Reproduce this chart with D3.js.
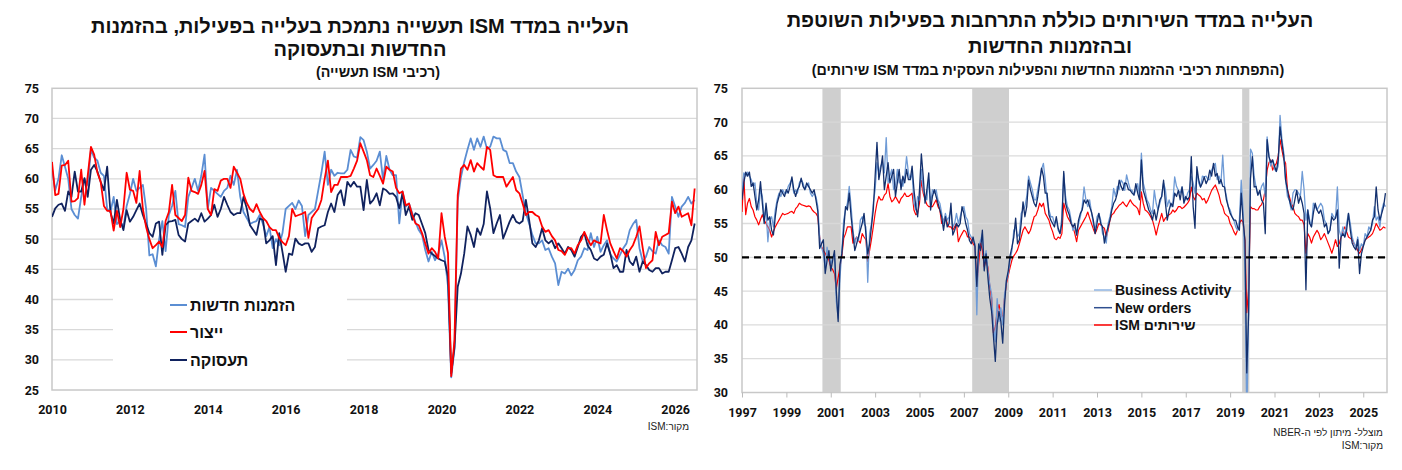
<!DOCTYPE html>
<html><head><meta charset="utf-8">
<script src="https://cdn.jsdelivr.net/npm/d3@7/dist/d3.min.js"></script>
<style>body{margin:0;background:#fff;} svg{display:block;}</style>
</head><body>
<svg id="c" width="1402" height="470"></svg>
<script>
// ---------------- LEFT CHART DATA (monthly, Jan 2010 onward) ----------------
const mfgStart = 2010;
const mfgNewOrders = [
61.7,58.1,60.0,63.9,62.0,60.0,55.0,54.0,53.4,57.0,60.0,59.0,
64.8,63.5,63.0,61.0,60.5,55.0,54.5,57.0,52.5,53.0,52.0,55.5,
57.5,60.0,58.0,58.5,59.0,55.0,47.3,47.5,45.5,50.0,53.0,48.0,
54.0,55.5,58.0,52.5,52.3,52.0,57.0,58.5,60.0,58.0,60.5,64.0,
55.0,58.5,58.0,57.5,57.0,58.0,58.5,60.5,59.0,61.5,57.0,54.5,
53.5,52.5,52.8,53.0,54.0,52.5,50.5,52.0,48.5,50.0,49.0,51.0,
55.0,55.5,56.0,55.0,56.4,55.5,50.5,54.0,54.5,55.0,58.0,61.0,
64.5,59.0,61.5,60.5,61.0,60.9,60.9,61.5,64.8,63.7,63.5,66.9,
66.4,64.5,61.7,62.3,63.0,64.5,59.8,63.8,61.5,60.6,60.6,52.6,
57.9,55.4,55.9,54.3,52.8,51.5,50.7,48.2,46.3,47.9,46.5,47.6,
49.8,47.0,42.2,27.1,31.8,56.4,60.3,62.8,64.8,66.7,64.8,66.7,
65.3,67.0,65.0,65.3,67.0,66.7,66.7,64.8,64.5,62.6,62.6,61.2,
60.3,57.3,54.3,52.6,50.7,49.3,49.3,49.8,48.2,48.5,47.1,46.0,
42.4,44.6,44.3,45.1,44.0,44.9,46.5,47.1,48.5,48.2,51.0,48.7,
50.4,47.9,49.0,49.8,47.5,46.8,46.3,47.4,48.5,49.3,51.5,52.5,
53.2,48.5,46.3,47.1,48.7,48.0,47.6,49.8,49.0,48.7,47.6,57.0,
55.4,53.7,55.4,56.0,57.0,55.9,56.5];
const mfgProduction = [
62.8,57.3,57.5,62.2,62.3,63.0,56.2,56.3,56.8,61.5,55.7,60.5,
65.3,64.0,61.0,59.5,55.5,54.7,54.7,51.4,54.7,52.0,55.0,61.0,
58.2,58.0,56.0,61.3,55.0,52.0,50.0,48.5,49.0,49.6,48.7,53.0,
54.5,59.0,54.0,53.5,53.0,54.0,60.2,58.0,57.8,57.5,59.0,61.3,
55.0,54.0,58.3,58.0,59.7,60.0,60.0,58.5,62.0,61.0,60.0,57.5,
56.0,55.0,54.5,55.8,54.5,53.5,53.0,52.0,51.5,51.5,50.2,49.5,
49.0,50.5,55.0,53.8,54.0,54.2,54.5,50.2,53.5,54.3,55.0,56.5,
60.0,63.0,57.8,59.0,59.0,60.3,60.3,60.3,60.5,61.7,63.0,65.9,
64.5,63.1,60.6,60.3,61.7,60.5,59.2,62.0,61.5,61.2,58.5,57.6,
57.9,55.6,55.9,54.0,52.6,52.3,51.0,49.3,47.6,48.5,47.9,46.8,
54.3,50.4,47.7,27.3,33.2,57.3,61.7,62.3,61.5,63.1,61.2,62.6,
62.0,61.5,65.3,64.8,60.6,60.3,60.3,60.3,58.7,59.5,60.3,58.1,
57.6,55.9,54.0,54.5,54.5,54.0,53.7,52.1,51.2,51.5,50.5,49.8,
48.2,48.0,47.4,48.5,48.5,47.6,49.0,49.8,51.2,50.0,49.0,49.8,
49.5,49.3,54.0,51.5,49.3,48.0,46.8,48.5,48.0,47.1,48.2,49.0,
50.4,52.1,48.5,45.2,46.0,46.5,51.2,49.0,50.4,50.7,51.0,56.2,
54.3,55.4,53.7,54.0,54.3,52.3,58.4];
const mfgEmployment = [
53.7,55.1,55.7,55.9,54.7,57.9,57.0,61.2,57.9,57.9,60.1,57.0,
61.5,62.3,61.2,59.5,58.1,62.0,54.5,52.6,56.5,53.2,51.5,54.8,
52.9,53.7,54.8,55.9,54.0,52.5,51.0,50.4,52.6,52.9,47.4,52.3,
52.9,53.0,53.2,50.7,50.0,49.6,52.6,53.0,53.4,52.9,54.3,52.9,
53.4,54.0,55.7,53.7,55.0,57.0,55.7,54.5,54.0,54.3,54.3,57.0,
55.1,52.3,51.5,50.7,53.4,53.2,49.3,49.8,50.5,45.7,51.0,47.9,
44.6,47.6,47.4,50.1,49.3,49.0,49.3,49.3,47.9,48.7,51.8,52.1,
52.3,54.5,55.9,54.5,57.3,58.1,55.6,59.5,58.7,59.5,58.7,58.7,
54.8,59.8,55.9,56.5,57.6,55.6,58.4,58.1,57.5,57.6,57.0,55.1,
57.6,54.0,55.4,53.2,54.3,54.0,52.5,51.0,48.2,47.6,47.2,46.8,
46.5,46.3,43.8,27.8,32.1,42.1,44.3,47.6,52.1,50.7,48.7,51.8,
50.7,52.5,57.9,55.1,51.0,52.6,54.0,50.1,51.5,52.9,54.0,52.9,
52.6,53.0,56.5,53.2,49.3,48.7,49.8,51.8,49.8,49.3,49.8,48.5,
49.3,48.5,47.6,48.7,48.2,47.1,48.7,50.4,51.0,49.0,48.2,46.8,
46.5,47.1,47.4,49.3,47.6,45.2,45.7,44.6,44.6,48.2,46.3,45.7,
47.1,44.6,46.3,45.7,44.9,44.6,45.2,45.2,44.3,44.6,44.6,46.5,
48.5,48.7,47.6,46.3,48.7,49.8,52.6];
const mfgXTicks = [2010,2012,2014,2016,2018,2020,2022,2024,2026];
const mfgYTicks = [25,30,35,40,45,50,55,60,65,70,75];
const mfgNames = ["הזמנות חדשות","ייצור","תעסוקה"];
const mfgTitle = ["העלייה במדד ISM תעשייה נתמכת בעלייה בפעילות, בהזמנות","החדשות ובתעסוקה"];
const mfgSubtitle = "(רכיבי ISM תעשייה)";

// ---------------- RIGHT CHART DATA (monthly, first point placed at the "1997" label) ----------------
const svcStart = 1997;
const svcBusinessActivity = [
60.0,62.5,62.0,62.6,62.0,61.5,60.5,61.0,58.0,57.0,60.0,59.0,
56.0,57.0,52.3,55.5,56.0,54.5,57.0,58.5,59.5,59.0,60.0,59.5,
59.5,60.5,61.0,61.5,59.5,60.0,59.5,61.0,61.5,61.0,60.0,60.5,
61.0,59.5,59.0,59.5,59.0,57.5,53.0,51.5,50.5,48.5,51.5,50.0,
49.0,50.0,50.5,43.5,41.0,47.0,51.0,55.5,57.0,58.0,60.5,57.5,
54.0,52.0,53.0,52.5,55.5,56.0,55.0,54.5,46.3,53.5,55.0,58.0,
60.0,64.0,62.5,63.5,64.0,62.5,67.7,61.0,62.0,63.0,60.0,60.5,
63.0,61.0,61.5,60.5,62.0,64.9,62.5,61.5,62.5,58.0,57.0,59.0,
58.5,63.0,60.0,59.0,58.5,61.5,58.0,60.0,59.5,60.0,58.5,58.0,
56.5,55.0,56.5,55.5,56.0,57.0,54.5,55.0,56.5,55.0,56.0,57.0,
57.5,56.0,55.5,53.5,53.0,52.5,52.0,41.5,51.5,52.5,53.5,49.0,
51.0,48.0,46.0,44.5,40.0,37.5,43.9,40.5,42.5,40.0,44.5,46.5,
47.5,49.5,51.0,54.0,54.5,53.0,53.5,56.5,57.0,57.5,59.0,62.0,
61.0,60.0,58.5,58.5,60.0,61.5,63.0,63.9,61.5,58.5,57.0,56.0,
56.0,55.0,55.5,54.0,53.5,56.0,62.4,59.0,57.5,57.0,55.5,54.0,
54.5,53.3,55.0,56.0,57.5,60.4,58.5,57.5,58.5,56.7,55.0,54.0,
56.0,56.5,55.5,53.5,53.0,52.1,55.0,56.0,57.5,60.2,59.0,60.5,
60.0,61.4,61.0,59.9,62.2,61.0,60.0,59.9,59.2,60.0,60.9,59.0,
65.4,61.0,59.9,58.5,58.0,57.0,56.5,59.9,58.0,57.0,58.0,59.0,
61.0,60.0,57.5,58.5,57.5,58.0,61.9,60.5,59.9,59.5,60.4,59.0,
58.5,59.5,60.0,62.0,61.0,59.5,62.5,61.0,60.4,62.0,61.9,62.0,
61.5,61.5,62.9,63.5,63.9,61.5,62.0,60.9,65.1,60.4,59.0,57.5,
57.0,56.0,55.5,54.5,54.0,55.5,61.4,57.0,48.0,26.0,41.9,66.0,
65.4,62.0,60.4,59.2,59.5,60.5,61.0,59.0,67.8,64.9,63.5,64.4,
63.0,62.7,63.5,71.0,67.5,65.5,61.4,59.0,58.5,57.0,59.5,60.0,
59.9,59.5,59.0,62.7,60.0,55.5,57.0,55.5,54.5,58.0,57.5,57.0,
57.5,58.0,57.5,55.5,55.0,53.5,54.0,56.5,56.0,55.8,60.4,54.0,
53.0,54.5,53.0,55.0,56.5,55.0,53.0,52.1,51.5,53.0,51.0,52.0,
51.6,53.5,53.0,54.5,54.0,55.0,57.5,55.5,56.0,54.5,57.0,58.0,
57.5];
const svcNewOrders = [
58.5,61.0,62.6,62.0,62.6,60.5,61.0,59.0,57.0,58.5,61.2,58.0,
55.0,58.0,55.5,56.0,54.0,53.3,56.0,58.0,59.0,60.0,59.5,59.0,
60.0,59.5,60.5,61.9,60.0,59.0,60.0,60.5,61.7,60.5,60.0,61.0,
60.5,60.0,59.5,60.0,58.5,56.8,51.3,52.0,52.6,47.6,49.5,51.0,
48.0,49.5,51.0,45.0,40.5,49.0,50.5,54.0,57.5,57.0,59.5,56.0,
53.5,51.0,52.0,53.0,54.0,55.0,56.5,53.5,50.5,52.0,54.5,57.0,
62.0,67.0,61.5,63.0,65.0,60.0,62.0,64.0,61.0,62.0,63.0,59.0,
61.0,63.0,60.0,62.0,61.0,63.0,61.5,61.5,63.5,60.0,57.5,56.0,
60.0,65.3,62.0,58.0,60.0,62.5,57.0,59.0,60.0,59.0,58.0,57.0,
56.0,54.0,56.0,54.5,55.0,58.0,53.3,54.0,55.0,54.5,55.0,57.5,
56.5,55.0,54.0,52.5,52.0,53.0,51.6,45.7,52.0,51.0,54.0,48.0,
50.5,47.0,44.0,42.0,38.3,34.6,40.0,42.0,40.5,37.3,43.0,46.6,
48.0,50.3,51.5,53.0,55.8,52.0,52.6,55.0,58.2,56.0,57.5,61.4,
60.0,59.0,58.0,57.5,59.0,61.0,63.2,62.0,59.5,59.5,56.3,55.5,
55.0,54.5,56.0,54.3,53.5,55.0,62.7,58.0,57.0,56.3,55.0,54.5,
55.0,53.3,55.5,56.5,57.0,58.5,58.0,58.5,57.5,56.7,55.5,53.5,
55.0,56.5,55.0,54.5,52.1,53.5,54.5,55.5,57.0,58.0,58.5,59.5,
61.4,60.5,59.9,61.0,60.9,60.0,59.9,59.5,59.2,60.9,59.5,58.5,
64.4,59.9,59.0,58.0,57.0,56.5,55.5,57.0,55.5,57.0,58.5,59.0,
61.4,58.0,55.5,57.0,58.0,57.5,59.5,59.0,59.9,58.5,60.4,58.0,
59.0,58.5,59.0,64.9,57.5,54.3,63.4,61.5,60.4,61.0,61.9,60.9,
61.5,62.9,62.0,63.9,62.0,62.4,60.9,61.5,60.5,60.4,58.5,57.5,
56.5,56.0,55.5,55.5,54.5,54.0,59.5,55.5,52.5,32.9,41.6,61.6,
64.9,60.4,60.5,59.2,59.9,58.5,58.0,53.5,67.4,64.9,64.0,64.4,
63.5,62.7,64.4,69.3,66.9,65.0,61.4,60.0,58.5,57.5,57.0,58.5,
59.9,58.0,59.0,58.0,56.5,45.2,57.0,55.0,54.5,56.5,58.0,57.0,
56.5,57.0,56.0,54.5,55.0,53.5,54.0,56.0,55.5,55.8,57.0,48.4,
53.0,53.5,53.0,54.0,56.5,54.0,52.1,51.5,51.1,52.6,47.6,50.5,
51.6,52.5,53.0,53.5,54.0,55.5,56.0,60.4,57.0,55.5,56.5,57.5,
59.5];
const svcISM = [
56.7,61.9,56.3,58.0,58.7,57.5,57.0,56.0,55.5,54.8,55.6,56.3,
55.5,55.0,54.5,54.0,53.0,53.8,54.5,55.0,55.5,56.0,56.5,56.3,
56.4,56.5,56.7,56.8,56.5,57.2,57.5,58.0,57.8,57.7,57.6,57.5,
57.6,57.5,57.0,56.7,56.5,56.0,53.0,51.6,51.0,50.6,50.0,49.6,
48.6,48.2,47.6,45.4,47.0,48.6,50.1,52.8,53.5,54.5,54.5,54.5,
52.1,52.5,53.0,52.5,52.1,53.5,53.0,52.6,49.4,51.0,52.6,54.5,
56.5,58.0,59.0,58.5,58.5,59.2,59.5,60.9,59.0,58.2,58.5,59.0,
58.5,58.0,58.7,59.0,59.5,59.0,59.0,59.2,59.5,57.0,56.3,56.5,
58.0,61.4,59.5,58.5,57.8,57.5,57.5,57.5,58.0,58.5,57.5,57.0,
55.0,55.5,56.0,55.0,54.5,54.5,54.0,54.5,55.0,52.3,53.0,53.5,
54.0,53.8,53.0,53.0,52.6,52.0,51.6,45.9,49.0,52.1,51.1,48.6,
49.6,48.5,45.7,44.0,38.8,39.7,42.0,43.0,41.7,41.0,44.0,46.1,
47.3,48.5,49.6,50.2,50.6,51.1,52.0,53.0,54.0,54.5,54.0,53.5,
54.0,55.0,56.0,56.2,57.0,58.0,57.5,58.0,56.5,56.0,55.5,54.5,
53.8,52.8,52.6,53.0,52.8,53.5,58.0,57.0,56.0,55.5,55.0,54.5,
53.5,52.3,54.0,54.5,55.0,55.5,56.0,56.7,55.8,55.0,54.2,53.5,
54.2,55.0,54.8,54.5,54.3,53.0,54.0,55.5,56.3,56.5,57.0,57.3,
57.7,57.9,58.2,57.8,57.5,58.0,58.5,58.0,57.7,57.5,57.2,56.3,
59.7,58.0,57.0,56.8,56.5,56.0,55.5,54.5,53.3,54.5,55.5,56.5,
55.3,55.8,56.0,56.3,56.5,57.0,56.7,57.0,57.5,57.5,57.2,57.4,
57.7,58.0,58.5,60.4,59.0,58.5,59.5,59.2,59.0,58.5,58.7,58.0,
58.5,59.2,59.9,60.3,60.7,60.0,59.2,58.0,57.5,56.5,56.2,56.0,
55.0,54.5,53.8,53.3,54.0,55.0,55.5,55.2,52.5,41.8,45.4,57.5,
57.2,57.2,57.0,57.0,57.5,57.8,58.5,60.0,62.9,64.0,64.4,62.9,
63.5,63.9,65.0,67.4,65.9,64.5,63.9,60.0,59.0,58.0,57.5,56.5,
56.2,56.0,55.5,55.5,54.8,50.6,53.5,53.0,52.1,53.0,53.5,54.0,
53.5,52.6,53.0,53.5,52.8,52.1,51.4,50.6,51.5,52.6,51.6,52.0,
53.0,53.8,54.5,53.8,53.0,52.8,52.6,52.0,51.6,51.0,50.6,51.1,
51.8,52.6,52.8,53.0,53.2,53.5,54.2,55.0,54.5,54.0,54.2,54.5,
54.3];
// recessions (NBER), as [start month index, end month index] counted from the first data point
const recessions = [[44,52],[125,143],[271,273]];
const svcXTicks = [1997,1999,2001,2003,2005,2007,2009,2011,2013,2015,2017,2019,2021,2023,2025];
const svcYTicks = [30,35,40,45,50,55,60,65,70,75];
const svcNames = ["Business Activity","New orders","ISM שירותים"];
const svcTitle = ["העלייה במדד השירותים כוללת התרחבות בפעילות השוטפת","ובהזמנות החדשות"];
const svcSubtitle = "(התפתחות רכיבי ההזמנות החדשות והפעילות העסקית במדד ISM שירותים)";
const svcNotes = ["מוצלל- מיתון לפי ה-NBER","מקור:ISM"];
const mfgNote = "מקור:ISM";

// ---------------- DRAWING ----------------
const svg = d3.select("#c");
svg.append("rect").attr("width",1402).attr("height",470).attr("fill","#fff");
const HEB = "'Liberation Sans', Arial, 'DejaVu Sans', sans-serif";
const NUM = "Roboto, 'Liberation Sans', Arial, sans-serif";
const defs = svg.append("defs");

function condensed(sel, k){
  const w = sel.node().getComputedTextLength();
  sel.attr("textLength", w*k).attr("lengthAdjust","spacingAndGlyphs");
}
function title(lines, sub, cx, ys, subx, ysub){
  lines.forEach((t,k)=>{
    svg.append("text").attr("x",cx).attr("y",ys[k])
      .attr("text-anchor","middle").attr("direction","rtl")
      .attr("font-family",HEB).attr("font-weight","bold").attr("font-size",20).attr("fill","#111").text(t);
  });
  const st = svg.append("text").attr("x",subx).attr("y",ysub).attr("text-anchor","middle").attr("direction","rtl")
    .attr("font-family",HEB).attr("font-weight","bold").attr("font-size",15).attr("fill","#111").text(sub);
  condensed(st, 0.95);
}

// ===== Left chart =====
{
  const x0=52,x1=697,y0=88.3,y1=390;
  const x = d3.scaleLinear().domain([2010,2026.56]).range([x0,x1]);
  const y = d3.scaleLinear().domain([25,75]).range([y1,y0]);
  title(mfgTitle, mfgSubtitle, 360, [32.5,55.5], 378, 76.5);
  const g = svg.append("g");
  g.selectAll(".grid").data(mfgYTicks.filter(v=>v>25&&v<75)).join("line")
    .attr("x1",x0).attr("x2",x1).attr("y1",d=>y(d)).attr("y2",d=>y(d))
    .attr("stroke","#d9d9d9").attr("stroke-width",1.3);
  g.append("rect").attr("x",113).attr("y",281).attr("width",234).attr("height",103).attr("fill","#fff");
  g.append("rect").attr("x",x0).attr("y",y0).attr("width",x1-x0).attr("height",y1-y0)
    .attr("fill","none").attr("stroke","#c8c8c8").attr("stroke-width",1.5);
  defs.append("clipPath").attr("id","clipL").append("rect").attr("x",x0).attr("y",y0).attr("width",x1-x0).attr("height",y1-y0);
  const series = [
    {v:mfgNewOrders,c:"#5b8ed3",w:1.8},
    {v:mfgEmployment,c:"#10225e",w:1.8},
    {v:mfgProduction,c:"#ff0000",w:1.8}];
  const line = d3.line().x((d,i)=>x(mfgStart+i/12)).y(d=>y(d));
  const lg = g.append("g").attr("clip-path","url(#clipL)");
  series.forEach(s=>lg.append("path").datum(s.v).attr("d",line).attr("fill","none")
    .attr("stroke",s.c).attr("stroke-width",s.w).attr("stroke-linejoin","round"));
  const ya = g.append("g").attr("transform",`translate(${x0},0)`)
    .call(d3.axisLeft(y).tickValues(mfgYTicks).tickSize(0).tickPadding(13));
  ya.select(".domain").remove();
  ya.selectAll("text").attr("font-family",NUM).attr("font-weight","bold").attr("font-size",12.5).attr("fill","#111");
  const xa = g.append("g").attr("transform",`translate(0,${y1})`)
    .call(d3.axisBottom(x).tickValues(mfgXTicks).tickFormat(d3.format("d")).tickSize(0).tickPadding(15));
  xa.select(".domain").remove();
  xa.selectAll("text").attr("font-family",NUM).attr("font-weight","bold").attr("font-size",12.5).attr("fill","#111");
  const cols = ["#5b8ed3","#ff0000","#10225e"];
  const ly = [305,332,360];
  mfgNames.forEach((n,k)=>{
    g.append("line").attr("x1",170).attr("x2",187).attr("y1",ly[k]).attr("y2",ly[k]).attr("stroke",cols[k]).attr("stroke-width",2);
    g.append("text").attr("x",190).attr("y",ly[k]+6).attr("font-family",HEB).attr("font-weight","bold")
      .attr("font-size",16).attr("fill","#111").text(n);
  });
  svg.append("text").attr("x",689).attr("y",430).attr("text-anchor","start").attr("direction","rtl")
    .attr("font-family",HEB).attr("font-size",10).attr("fill","#222").text(mfgNote);
}

// ===== Right chart =====
{
  const x0=742,x1=1387,y0=88.3,y1=392.5;
  const x = d3.scaleLinear().domain([1997,2026.07]).range([x0,x1]);
  const y = d3.scaleLinear().domain([30,75]).range([y1,y0]);
  title(svcTitle, svcSubtitle, 1050, [27,53], 1048, 75);
  const g = svg.append("g");
  g.selectAll(".rec").data(recessions).join("rect")
    .attr("x",d=>x(svcStart+(d[0]-0.5)/12)).attr("width",d=>x(svcStart+(d[1]+1.4)/12)-x(svcStart+(d[0]-0.5)/12))
    .attr("y",y0).attr("height",y1-y0).attr("fill","#cfcfcf");
  g.selectAll(".grid").data(svcYTicks.filter(v=>v>30&&v<75)).join("line")
    .attr("x1",x0).attr("x2",x1).attr("y1",d=>y(d)).attr("y2",d=>y(d))
    .attr("stroke","#d9d9d9").attr("stroke-width",1.3).attr("opacity",0.9);
  g.append("rect").attr("x",x0).attr("y",y0).attr("width",x1-x0).attr("height",y1-y0)
    .attr("fill","none").attr("stroke","#c8c8c8").attr("stroke-width",1.5);
  defs.append("clipPath").attr("id","clipR").append("rect").attr("x",x0).attr("y",y0).attr("width",x1-x0).attr("height",y1-y0);
  const line = d3.line().x((d,i)=>x(svcStart+i/12)).y(d=>y(d));
  const lg = g.append("g").attr("clip-path","url(#clipR)");
  [{v:svcISM,c:"#ff0000",w:1.2},{v:svcBusinessActivity,c:"#6f9bd6",w:1.3},{v:svcNewOrders,c:"#13306e",w:1.3}]
    .forEach(s=>lg.append("path").datum(s.v).attr("d",line).attr("fill","none")
      .attr("stroke",s.c).attr("stroke-width",s.w).attr("stroke-linejoin","round"));
  g.append("line").attr("x1",x0).attr("x2",x1).attr("y1",y(50)).attr("y2",y(50))
    .attr("stroke","#000").attr("stroke-width",2.2).attr("stroke-dasharray","7,5");
  const ya = g.append("g").attr("transform",`translate(${x0},0)`)
    .call(d3.axisLeft(y).tickValues(svcYTicks).tickSize(0).tickPadding(14));
  ya.select(".domain").remove();
  ya.selectAll("text").attr("font-family",NUM).attr("font-weight","bold").attr("font-size",12.5).attr("fill","#111");
  const xa = g.append("g").attr("transform",`translate(0,${y1})`)
    .call(d3.axisBottom(x).tickValues(svcXTicks).tickFormat(d3.format("d")).tickSize(5).tickPadding(11));
  xa.select(".domain").remove();
  xa.selectAll("line").attr("stroke","#bbb");
  xa.selectAll("text").attr("font-family",NUM).attr("font-weight","bold").attr("font-size",12.5).attr("fill","#111");
  const cols = ["#8fb4e3","#2f4f8f","#ff0000"];
  const ly = [290,307.7,325];
  svcNames.forEach((n,k)=>{
    g.append("line").attr("x1",1094).attr("x2",1112).attr("y1",ly[k]).attr("y2",ly[k]).attr("stroke",cols[k]).attr("stroke-width",1.5);
    g.append("text").attr("x",1115).attr("y",ly[k]+5).attr("font-family",HEB).attr("font-weight","bold")
      .attr("font-size",14).attr("fill","#111").text(n);
  });
  svcNotes.forEach((n,k)=>svg.append("text").attr("x",1383).attr("y",436+k*13).attr("text-anchor","start").attr("direction","rtl")
    .attr("font-family",HEB).attr("font-size",10).attr("fill","#222").text(n));
}
</script>
</body></html>
